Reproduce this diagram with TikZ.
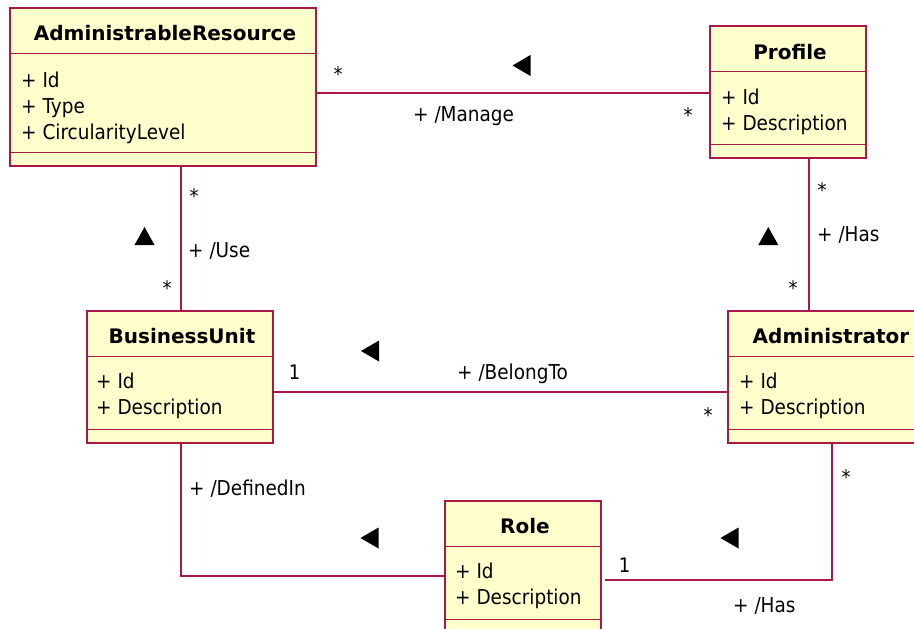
\documentclass[tikz,border=0pt]{standalone}
\usepackage{fontspec}
\setmainfont{DejaVu Sans}
\newfontfamily\umlAttrFont{DejaVu Sans}[FakeStretch=0.9]
\definecolor{umlline}{RGB}{170,24,72}
\definecolor{umlfill}{RGB}{255,255,204}
\newcommand\umlComp[1]{%
  \draw[cmpline] ([yshift=-46pt]#1.north west) -- ([yshift=-46pt]#1.north east);
  \draw[cmpline] ([yshift=14pt]#1.south west) -- ([yshift=14pt]#1.south east);}
\newcommand\umlLtri[2]{\fill (#1+9,#2-10.5) -- (#1+9,#2+10.5) -- (#1-9,#2) -- cycle;}
\newcommand\umlUtri[2]{\fill (#1-10,#2+9) -- (#1+10,#2+9) -- (#1,#2-9) -- cycle;}
\begin{document}
\begin{tikzpicture}[x=1pt,y=-1pt,
  cls/.style={draw=umlline, fill=umlfill, line width=1.2pt, inner sep=0pt},
  cmpline/.style={draw=umlline, line width=1.2pt},
  assoc/.style={draw=umlline, line width=1.9pt},
  hdr/.style={font=\fontsize{20}{24}\selectfont\bfseries, anchor=base, inner sep=0pt},
  attr/.style={font=\umlAttrFont\fontsize{20.5}{26}\selectfont, anchor=base west, inner sep=0pt},
  lbl/.style={font=\umlAttrFont\fontsize{20.5}{26}\selectfont, anchor=base west, inner sep=0pt},
  mult/.style={font=\umlAttrFont\fontsize{20}{26}\selectfont, anchor=base, inner sep=0pt}]
\useasboundingbox (0,0) rectangle (914,629);
\clip (0,0) rectangle (914,629);

% helper coordinates
\coordinate (yManage) at (0,93);
\coordinate (yBelong) at (0,392);
\coordinate (yDef) at (0,576);
\coordinate (yHas) at (0,580);
\coordinate (xUse) at (181,0);
\coordinate (xHasTop) at (809,0);
\coordinate (xHasBot) at (832,0);

% classes
\node[cls, minimum width=306pt, minimum height=158pt] (ar) at (163,87) {};
\node[cls, minimum width=156pt, minimum height=132pt] (pr) at (788,92) {};
\node[cls, minimum width=186pt, minimum height=132pt] (bu) at (180,377) {};
\node[cls, minimum width=205pt, minimum height=132pt] (ad) at (830.5,377) {};
\node[cls, minimum width=156pt, minimum height=132pt] (ro) at (523,567) {};
\umlComp{ar}\umlComp{pr}\umlComp{bu}\umlComp{ad}\umlComp{ro}

% texts
\node[hdr] (ar-h) at (165,41) {AdministrableResource};
\node[attr] (ar-1) at (21,87) {+ Id};
\node[attr] (ar-2) at (21,113) {+ Type};
\node[attr] (ar-3) at (21,139) {+ CircularityLevel};

\node[hdr] (pr-h) at (790,59) {Profile};
\node[attr] (pr-1) at (721,104) {+ Id};
\node[attr] (pr-2) at (721,130) {+ Description};

\node[hdr] (bu-h) at (182,343) {BusinessUnit};
\node[attr] (bu-1) at (96,388) {+ Id};
\node[attr] (bu-2) at (96,414) {+ Description};

\node[hdr] (ad-h) at (831,343) {Administrator};
\node[attr] (ad-1) at (739,388) {+ Id};
\node[attr] (ad-2) at (739,414) {+ Description};

\node[hdr] (ro-h) at (525,533) {Role};
\node[attr] (ro-1) at (455,578) {+ Id};
\node[attr] (ro-2) at (455,604) {+ Description};

% associations
\draw[assoc] (ar.east |- yManage) -- (pr.west |- yManage);
\draw[assoc] (ar.south -| xUse) -- (bu.north -| xUse);
\draw[assoc] (pr.south -| xHasTop) -- (ad.north -| xHasTop);
\draw[assoc] (bu.east |- yBelong) -- (ad.west |- yBelong);
\draw[assoc] (bu.south -| xUse) |- (ro.west |- yDef);
\draw[assoc] ([xshift=3pt]ro.east |- yHas) -| (ad.south -| xHasBot);

% association labels
\node[lbl] (l-manage) at (413,121) {+ /Manage};
\node[lbl] (l-use) at (188,257) {+ /Use};
\node[lbl] (l-has1) at (817,241) {+ /Has};
\node[lbl] (l-belong) at (457,379) {+ /BelongTo};
\node[lbl] (l-def) at (189,495) {+ /DefinedIn};
\node[lbl] (l-has2) at (733,612) {+ /Has};

% multiplicities
\node[mult] (m1) at (338,81) {*};
\node[mult] (m2) at (688,122) {*};
\node[mult] (m3) at (194,203) {*};
\node[mult] (m4) at (167,295) {*};
\node[mult] (m5) at (822,197) {*};
\node[mult] (m6) at (793,295) {*};
\node[mult] (m7) at (708,422) {*};
\node[mult] (m8) at (846,484) {*};
\node[mult] (m9) at (294.5,379) {1};
\node[mult] (m10) at (624.5,572) {1};

% direction triangles
\umlLtri{521.5}{65.5}
\umlUtri{144.5}{236}
\umlUtri{768.3}{236}
\umlLtri{370}{351}
\umlLtri{369.5}{538}
\umlLtri{729.5}{538}
\end{tikzpicture}
\end{document}
